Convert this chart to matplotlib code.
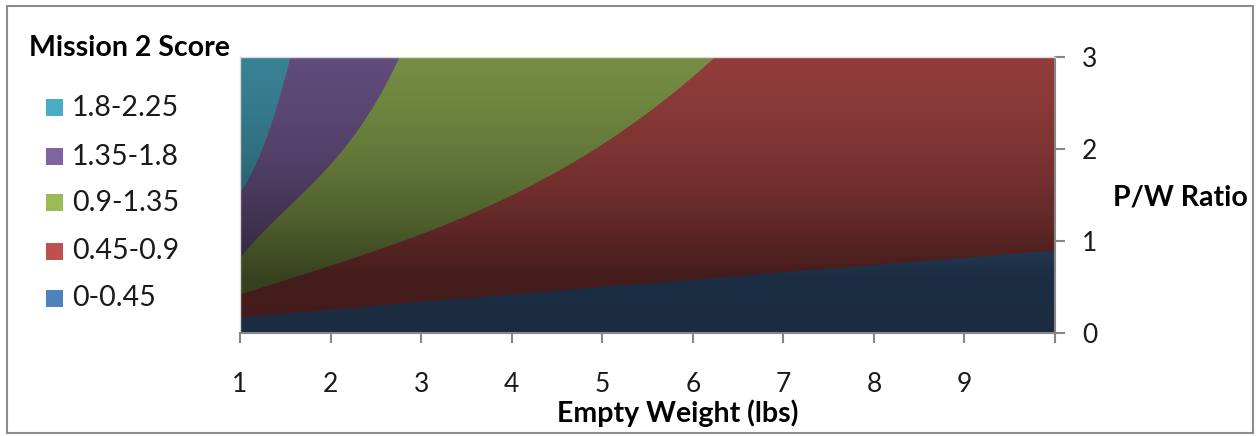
import numpy as np
import matplotlib.pyplot as plt
from matplotlib.patches import Rectangle

plt.rcParams['font.family'] = ['Lato', 'DejaVu Sans']

# P/W ratio where the score crosses each band limit, vs empty weight
w_045 = [1.0, 2.9, 5.0, 6.67, 8.36, 10.0]
pw_045 = [0.177, 0.34, 0.50, 0.64, 0.775, 0.90]
w_090 = [1.0, 1.99, 2.9, 3.61, 4.35, 5.0, 5.34, 5.71, 6.08, 6.245]
pw_090 = [0.43, 0.72, 1.04, 1.34, 1.70, 2.05, 2.26, 2.55, 2.89, 3.0]
w_135 = [1.0, 1.42, 1.78, 2.13, 2.41, 2.59, 2.76]
pw_135 = [0.83, 1.26, 1.63, 1.99, 2.35, 2.71, 3.0]
w_180 = [1.0, 1.21, 1.39, 1.47, 1.545]
pw_180 = [1.52, 1.99, 2.35, 2.71, 3.0]

band_labels = ['0-0.45', '0.45-0.9', '0.9-1.35', '1.35-1.8', '1.8-2.25']
band_colors = ['#4F81BD', '#C0504D', '#9BBB59', '#8064A2', '#4BACC6']

x_ticks = [1, 2, 3, 4, 5, 6, 7, 8, 9, 10]
x_ticklabels = ['1', '2', '3', '4', '5', '6', '7', '8', '9', '']
y_ticks = [0, 1, 2, 3]

# surface lighting: brightness factor by height
shade_y = [0.0, 0.6, 0.9, 1.2, 1.6, 2.0, 2.5, 3.0]
shade_f = [0.34, 0.35, 0.42, 0.50, 0.58, 0.65, 0.71, 0.76]


def smooth_edge(x, w, pw, deg):
    # smooth curve through the read points, flat at the top once it leaves the plot
    y = np.polyval(np.polyfit(w, pw, deg), x)
    y[x > w[-1]] = 3.0
    return np.clip(y, 0, 3.0)


fig = plt.figure(figsize=(12.6, 4.36), dpi=100)
ax = fig.add_axes([240 / 1260, 103 / 436, 815 / 1260, 276 / 436])

x = np.linspace(1, 10, 1200)
lower = [np.zeros_like(x),
         smooth_edge(x, w_045, pw_045, 2),
         smooth_edge(x, w_090, pw_090, 3),
         smooth_edge(x, w_135, pw_135, 3),
         smooth_edge(x, w_180, pw_180, 2)]

# each band painted from its lower limit to the top, next band on top of it
for lo, c in zip(lower, band_colors):
    ax.fill_between(x, lo, 3.0, color=c, lw=0, zorder=1)

ys = np.linspace(0, 3, 400)
shade = np.zeros((len(ys), 1, 4))
shade[:, 0, 3] = 1 - np.interp(ys, shade_y, shade_f)
ax.imshow(shade, extent=[1, 10, 0, 3], origin='lower', aspect='auto',
          interpolation='bilinear', zorder=2)

ax.set_xlim(1, 10)
ax.set_ylim(0, 3)
ax.set_xticks(x_ticks)
ax.set_xticklabels(x_ticklabels)
ax.set_yticks(y_ticks)
ax.yaxis.tick_right()
ax.tick_params(axis='x', direction='out', length=7, width=1.5, color='#868686',
               pad=21, labelsize=19, labelcolor='#1a1a1a')
ax.tick_params(axis='y', direction='out', length=7.5, width=1.5, color='#868686',
               pad=12, labelsize=19, labelcolor='#1a1a1a')
for side in ['bottom', 'right']:
    ax.spines[side].set_color('#868686')
    ax.spines[side].set_linewidth(1.5)
for side in ['top', 'left']:
    ax.spines[side].set_color('#D9D9D9')
    ax.spines[side].set_linewidth(1)

fig.text(678 / 1260, 1 - 413 / 436, 'Empty Weight (lbs)', ha='center', va='center',
         fontsize=20.5, fontweight='bold')
fig.text(1113 / 1260, 1 - 197 / 436, 'P/W Ratio', ha='left', va='center',
         fontsize=20.5, fontweight='bold')

# legend, highest band first
fig.text(29 / 1260, 1 - 48 / 436, 'Mission 2 Score', ha='left', va='center',
         fontsize=20.5, fontweight='bold')
leg_y = [108, 157, 203, 251, 298]
for yy, lab, c in zip(leg_y, band_labels[::-1], band_colors[::-1]):
    fig.add_artist(Rectangle((46 / 1260, 1 - (yy + 8.5) / 436), 17 / 1260, 17 / 436,
                             transform=fig.transFigure, color=c, lw=0))
    fig.text(72 / 1260, 1 - yy / 436, lab, ha='left', va='center',
             fontsize=20.5, color='#1a1a1a')

fig.add_artist(Rectangle((7 / 1260, 3 / 436), 1246 / 1260, 427 / 436,
                         transform=fig.transFigure, fill=False,
                         edgecolor='#8C8C8C', lw=1.5))

fig.savefig('out.png', dpi=100)
